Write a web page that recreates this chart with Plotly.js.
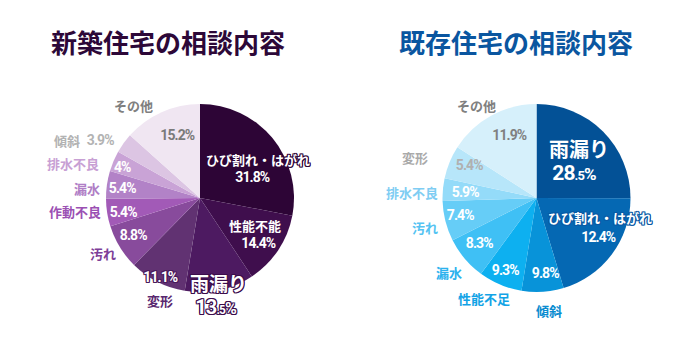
<!DOCTYPE html>
<html><head><meta charset="utf-8">
<script src="https://cdn.plot.ly/plotly-3.0.1.min.js"></script>
<style>html,body{margin:0;padding:0;background:#fff}#chart{width:690px;height:345px}</style>
</head><body><div id="chart"></div>
<script>
// ---- data ----
const leftTitle = '新築住宅の相談内容';
const leftCategories = ['ひび割れ・はがれ','性能不能','雨漏り','変形','汚れ','作動不良','漏水','排水不良','傾斜','その他'];
const leftValues = [31.8, 14.4, 13.5, 11.1, 8.8, 5.4, 5.4, 4, 3.9, 15.2];

const rightTitle = '既存住宅の相談内容';
const rightCategories = ['雨漏り','ひび割れ・はがれ','傾斜','性能不足','漏水','汚れ','排水不良','変形','その他'];
const rightValues = [28.5, 12.4, 9.8, 9.3, 8.3, 7.4, 5.9, 5.4, 11.9];       // printed percentages
const rightSliceShare = [25, 20.3, 7.2, 7.5, 7.5, 6.9, 3.9, 5.7, 15.9];    // slice sizes as drawn in the picture

// ---- styles ----
const W = 690, H = 345, R = 94;
const leftCenter = [200, 198], rightCenter = [536.5, 198];
const leftColors = ['#2d0536','#3f0e4d','#4d1a61','#613272','#884b9c','#a25ab7','#b282c7','#c9a3d6','#dcc5e3','#f0e6f2'];
const rightColors = ['#035196','#0568b3','#0893d9','#0db0f0','#3fc0f5','#66cdf7','#94dbf9','#b7e6fa','#d6f0fb'];

const CJK = 'Noto Sans CJK JP, Noto Sans, sans-serif';
const NUM = 'Roboto, Noto Sans, sans-serif';

function outline(c){ return `-1px -1px 0 ${c}, 1px -1px 0 ${c}, -1px 1px 0 ${c}, 1px 1px 0 ${c}, 0 1px 0 ${c}, 0 -1px 0 ${c}, 1px 0 0 ${c}, -1px 0 0 ${c}`; }

// label placement (pixel offsets from pie centre) & style, per slice
const leftNameStyle = [
  {d:[58,-38], c:'#ffffff', s:13, o:'#2d0536'},
  {d:[55,27], c:'#ffffff', s:13},
  {d:[18,84], c:'#ffffff', s:19, o:'#3b0c4b'},
  {d:[-40,102], c:'#5a2870', s:13},
  {d:[-97,55], c:'#7e3e98', s:13},
  {d:[-125,14], c:'#9b50b3', s:13},
  {d:[-113,-10], c:'#b07ec6', s:13},
  {d:[-127,-35], c:'#c8a0d4', s:13},
  {d:[-133,-58], c:'#b3b3b3', s:13},
  {d:[-67,-93], c:'#808080', s:13}
];
const leftPctStyle = [
  {d:[53,-21], c:'#ffffff', s:14},
  {d:[58,45], c:'#ffffff', s:14},
  {d:[15,109], c:'#ffffff', s:20, o:'#3b0c4b', big:true},
  {d:[-40,79], c:'#ffffff', s:14, o:'#4a1a5c'},
  {d:[-67,37], c:'#ffffff', s:14},
  {d:[-77,14], c:'#ffffff', s:14},
  {d:[-78,-10], c:'#ffffff', s:14},
  {d:[-78,-31], c:'#ffffff', s:14},
  {d:[-100,-58], c:'#b3b3b3', s:14},
  {d:[-23,-63], c:'#7a7a7a', s:14}
];
const rightNameStyle = [
  {d:[42,-50], c:'#ffffff', s:20},
  {d:[63,19], c:'#ffffff', s:13, o:'#0a5aa5'},
  {d:[12,112], c:'#0a8cd0', s:13},
  {d:[-53,100], c:'#12a3e6', s:13},
  {d:[-88,74], c:'#2cb2ee', s:13},
  {d:[-112,29], c:'#55c3f2', s:13},
  {d:[-125,-6], c:'#7fcdf3', s:13},
  {d:[-122,-41], c:'#aaaaaa', s:13},
  {d:[-60,-93], c:'#808080', s:13}
];
const rightPctStyle = [
  {d:[37,-25], c:'#ffffff', s:21, big:true},
  {d:[62,39], c:'#ffffff', s:14},
  {d:[8,75], c:'#ffffff', s:14},
  {d:[-32,72], c:'#ffffff', s:14},
  {d:[-58,45], c:'#ffffff', s:14},
  {d:[-77,17], c:'#ffffff', s:14},
  {d:[-72,-6], c:'#ffffff', s:14},
  {d:[-68,-33], c:'#b0b0b0', s:14},
  {d:[-27,-63], c:'#808080', s:14}
];

function domainFor(c){
  return {x:[(c[0]-R)/W,(c[0]+R)/W], y:[(H-c[1]-R)/H,(H-c[1]+R)/H]};
}
function pctText(v, st){
  const t = v + '%';
  if(!st.big) return t;
  const i = t.indexOf('.');
  if(i < 0) return t;
  const frac = t.slice(i, -1);
  return t.slice(0,i) + `<span style="font-size:${Math.round(st.s*0.62)}px">${frac}</span>` +
         `<span style="font-size:${Math.round(st.s*0.8)}px">%</span>`;
}
function ann(center, st, text, family){
  const a = {
    xref:'paper', yref:'paper', x:(center[0]+st.d[0])/W, y:(H-center[1]-st.d[1])/H,
    xanchor:'center', yanchor:'middle', showarrow:false, text:text,
    font:{family:family, size:st.s, color:st.c, weight:'bold'}
  };
  a.font.shadow = st.o ? outline(st.o) : 'none';
  return a;
}

const annotations = [];
leftCategories.forEach((n,i)=>{
  annotations.push(ann(leftCenter, leftNameStyle[i], n, CJK));
  annotations.push(ann(leftCenter, leftPctStyle[i], pctText(leftValues[i], leftPctStyle[i]), NUM));
});
rightCategories.forEach((n,i)=>{
  annotations.push(ann(rightCenter, rightNameStyle[i], n, CJK));
  annotations.push(ann(rightCenter, rightPctStyle[i], pctText(rightValues[i], rightPctStyle[i]), NUM));
});
annotations.push({xref:'paper',yref:'paper',x:168/W,y:(H-42)/H,xanchor:'center',yanchor:'middle',showarrow:false,
  text:leftTitle,font:{family:CJK,size:26,color:'#2d0838',weight:'bold'}});
annotations.push({xref:'paper',yref:'paper',x:516/W,y:(H-42)/H,xanchor:'center',yanchor:'middle',showarrow:false,
  text:rightTitle,font:{family:CJK,size:26,color:'#0a56a0',weight:'bold'}});

const traces = [
  {type:'pie', labels:leftCategories, values:leftValues, sort:false, direction:'clockwise', rotation:0,
   marker:{colors:leftColors, line:{width:0}}, textinfo:'none', hoverinfo:'label+value', domain:domainFor(leftCenter), showlegend:false},
  {type:'pie', labels:rightCategories, values:rightSliceShare, sort:false, direction:'clockwise', rotation:0,
   marker:{colors:rightColors, line:{width:0}}, textinfo:'none', hoverinfo:'label', domain:domainFor(rightCenter), showlegend:false}
];
Plotly.newPlot('chart', traces, {
  width:W, height:H, margin:{l:0,r:0,t:0,b:0}, paper_bgcolor:'#fff', plot_bgcolor:'#fff',
  showlegend:false, annotations:annotations
}, {staticPlot:true}).then(gd=>{
  // tighten the tracking of the percentage figures (condensed look of the original)
  gd.querySelectorAll('.annotation-text').forEach(t=>{
    if((t.style.fontFamily||'').indexOf('Roboto')>=0) t.style.letterSpacing = '-0.9px';
  });
});
</script></body></html>
